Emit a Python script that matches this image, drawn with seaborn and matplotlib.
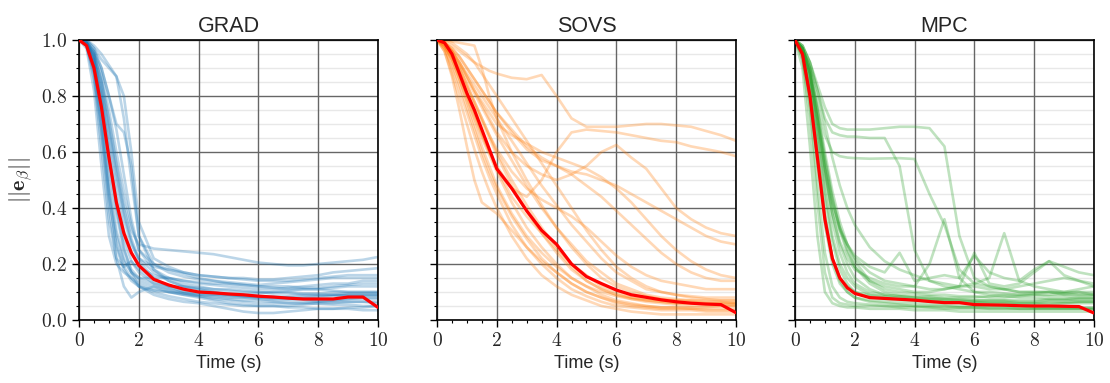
"""Error norm trajectories for three controllers (GRAD, SOVS, MPC)."""

import matplotlib
matplotlib.use("Agg")
import matplotlib.pyplot as plt
from matplotlib.ticker import FuncFormatter, MultipleLocator
import pandas as pd
import seaborn as sns

# shared time grid (s)
time = [0, 0.25, 0.5, 0.75, 1, 1.25, 1.5, 1.75, 2, 2.5, 3, 3.5, 4, 4.5,
        5, 5.5, 6, 6.5, 7, 7.5, 8, 8.5, 9, 9.5, 10]

# GRAD runs
grad_runs = [
    [1.0, 0.97, 0.82, 0.55, 0.30, 0.20, 0.17, 0.15, 0.13, 0.11, 0.10, 0.09, 0.085, 0.08, 0.075, 0.07, 0.07, 0.065, 0.06, 0.06, 0.058, 0.055, 0.055, 0.05, 0.05],
    [1.0, 0.98, 0.86, 0.62, 0.36, 0.22, 0.19, 0.21, 0.18, 0.14, 0.12, 0.11, 0.10, 0.095, 0.09, 0.085, 0.085, 0.08, 0.08, 0.075, 0.07, 0.07, 0.075, 0.08, 0.08],
    [1.0, 0.99, 0.88, 0.66, 0.40, 0.22, 0.12, 0.08, 0.10, 0.12, 0.10, 0.09, 0.08, 0.07, 0.06, 0.055, 0.05, 0.05, 0.045, 0.045, 0.04, 0.04, 0.04, 0.035, 0.035],
    [1.0, 0.99, 0.92, 0.76, 0.55, 0.38, 0.25, 0.18, 0.15, 0.13, 0.12, 0.12, 0.115, 0.11, 0.11, 0.105, 0.10, 0.10, 0.10, 0.095, 0.095, 0.10, 0.10, 0.10, 0.10],
    [1.0, 0.99, 0.93, 0.80, 0.62, 0.45, 0.32, 0.24, 0.19, 0.16, 0.15, 0.14, 0.135, 0.13, 0.13, 0.125, 0.12, 0.12, 0.12, 0.115, 0.115, 0.12, 0.125, 0.13, 0.13],
    [1.0, 0.99, 0.94, 0.82, 0.66, 0.50, 0.36, 0.27, 0.22, 0.19, 0.18, 0.17, 0.16, 0.155, 0.15, 0.145, 0.14, 0.14, 0.14, 0.145, 0.15, 0.155, 0.16, 0.16, 0.16],
    [1.0, 1.0, 0.95, 0.86, 0.72, 0.56, 0.42, 0.32, 0.27, 0.255, 0.25, 0.245, 0.24, 0.235, 0.225, 0.215, 0.205, 0.20, 0.195, 0.195, 0.20, 0.205, 0.21, 0.215, 0.225],
    [1.0, 1.0, 0.97, 0.93, 0.90, 0.87, 0.80, 0.60, 0.35, 0.22, 0.19, 0.17, 0.16, 0.155, 0.15, 0.15, 0.145, 0.145, 0.15, 0.155, 0.16, 0.17, 0.175, 0.18, 0.185],
    [1.0, 0.99, 0.96, 0.90, 0.80, 0.70, 0.67, 0.55, 0.30, 0.18, 0.14, 0.12, 0.11, 0.10, 0.09, 0.085, 0.08, 0.075, 0.075, 0.08, 0.085, 0.09, 0.09, 0.09, 0.09],
    [1.0, 0.99, 0.93, 0.78, 0.58, 0.40, 0.26, 0.17, 0.12, 0.09, 0.075, 0.065, 0.06, 0.05, 0.04, 0.03, 0.025, 0.025, 0.03, 0.035, 0.04, 0.04, 0.045, 0.045, 0.05],
    [1.0, 0.99, 0.95, 0.84, 0.68, 0.52, 0.38, 0.28, 0.21, 0.15, 0.12, 0.10, 0.09, 0.085, 0.08, 0.08, 0.075, 0.07, 0.07, 0.07, 0.065, 0.065, 0.065, 0.065, 0.06],
    [1.0, 0.99, 0.96, 0.88, 0.75, 0.60, 0.46, 0.34, 0.25, 0.18, 0.15, 0.13, 0.12, 0.11, 0.105, 0.10, 0.10, 0.095, 0.095, 0.09, 0.09, 0.09, 0.085, 0.085, 0.085],
    [1.0, 0.99, 0.90, 0.70, 0.47, 0.30, 0.21, 0.17, 0.15, 0.15, 0.15, 0.14, 0.13, 0.125, 0.12, 0.115, 0.11, 0.11, 0.115, 0.12, 0.125, 0.13, 0.13, 0.14, 0.14],
    [1.0, 1.0, 0.98, 0.95, 0.91, 0.87, 0.72, 0.50, 0.30, 0.20, 0.17, 0.155, 0.145, 0.14, 0.13, 0.125, 0.12, 0.115, 0.11, 0.11, 0.11, 0.115, 0.12, 0.12, 0.12],
    [1.0, 0.99, 0.94, 0.80, 0.60, 0.42, 0.29, 0.21, 0.17, 0.13, 0.11, 0.095, 0.085, 0.075, 0.07, 0.065, 0.06, 0.06, 0.06, 0.06, 0.065, 0.07, 0.075, 0.075, 0.075],
    [1.0, 0.99, 0.91, 0.72, 0.45, 0.26, 0.18, 0.14, 0.12, 0.105, 0.10, 0.095, 0.09, 0.09, 0.09, 0.09, 0.095, 0.10, 0.105, 0.11, 0.11, 0.105, 0.10, 0.10, 0.10],
    [1.0, 0.99, 0.92, 0.74, 0.50, 0.32, 0.22, 0.17, 0.14, 0.12, 0.11, 0.10, 0.095, 0.09, 0.085, 0.08, 0.08, 0.08, 0.085, 0.09, 0.09, 0.09, 0.095, 0.095, 0.095],
    [1.0, 0.99, 0.95, 0.85, 0.70, 0.55, 0.40, 0.29, 0.22, 0.17, 0.14, 0.12, 0.11, 0.10, 0.095, 0.09, 0.085, 0.085, 0.08, 0.08, 0.08, 0.085, 0.09, 0.09, 0.09],
    [1.0, 1.0, 0.97, 0.90, 0.80, 0.68, 0.52, 0.36, 0.25, 0.20, 0.18, 0.165, 0.15, 0.14, 0.135, 0.13, 0.125, 0.13, 0.135, 0.14, 0.145, 0.15, 0.15, 0.15, 0.15],
    [1.0, 0.98, 0.88, 0.68, 0.44, 0.27, 0.19, 0.15, 0.12, 0.10, 0.085, 0.075, 0.065, 0.06, 0.055, 0.05, 0.05, 0.05, 0.05, 0.055, 0.06, 0.06, 0.065, 0.065, 0.065],
]
grad_mean = [1.0, 0.98, 0.90, 0.76, 0.58, 0.42, 0.31, 0.24, 0.195, 0.145, 0.125, 0.11, 0.10, 0.097, 0.093, 0.09, 0.085, 0.082, 0.078, 0.075, 0.075, 0.075, 0.082, 0.082, 0.045]

# SOVS runs
sovs_runs = [
    [1.0, 0.96, 0.88, 0.79, 0.70, 0.61, 0.53, 0.46, 0.40, 0.30, 0.22, 0.16, 0.12, 0.09, 0.07, 0.05, 0.04, 0.03, 0.025, 0.02, 0.02, 0.02, 0.02, 0.02, 0.02],
    [1.0, 0.97, 0.90, 0.82, 0.74, 0.66, 0.58, 0.51, 0.45, 0.34, 0.26, 0.20, 0.15, 0.11, 0.085, 0.065, 0.05, 0.045, 0.04, 0.035, 0.035, 0.035, 0.03, 0.03, 0.03],
    [1.0, 0.98, 0.93, 0.86, 0.79, 0.72, 0.65, 0.59, 0.53, 0.42, 0.33, 0.26, 0.20, 0.15, 0.12, 0.09, 0.07, 0.06, 0.05, 0.045, 0.045, 0.04, 0.04, 0.04, 0.04],
    [1.0, 0.96, 0.87, 0.75, 0.62, 0.50, 0.42, 0.40, 0.38, 0.32, 0.26, 0.21, 0.17, 0.13, 0.10, 0.08, 0.065, 0.055, 0.05, 0.045, 0.045, 0.045, 0.045, 0.05, 0.05],
    [1.0, 0.99, 0.95, 0.90, 0.84, 0.78, 0.72, 0.66, 0.60, 0.50, 0.41, 0.33, 0.26, 0.20, 0.16, 0.12, 0.10, 0.08, 0.07, 0.065, 0.06, 0.06, 0.055, 0.055, 0.055],
    [1.0, 1.0, 0.995, 0.99, 0.985, 0.98, 0.90, 0.80, 0.72, 0.60, 0.50, 0.41, 0.33, 0.26, 0.20, 0.15, 0.12, 0.10, 0.085, 0.075, 0.07, 0.065, 0.06, 0.06, 0.06],
    [1.0, 0.99, 0.96, 0.92, 0.88, 0.84, 0.80, 0.76, 0.72, 0.64, 0.56, 0.48, 0.41, 0.34, 0.28, 0.22, 0.17, 0.14, 0.11, 0.10, 0.09, 0.085, 0.08, 0.08, 0.08],
    [1.0, 0.995, 0.98, 0.96, 0.94, 0.92, 0.905, 0.89, 0.88, 0.865, 0.86, 0.875, 0.80, 0.72, 0.69, 0.69, 0.69, 0.695, 0.70, 0.70, 0.695, 0.69, 0.675, 0.66, 0.64],
    [1.0, 0.98, 0.93, 0.87, 0.80, 0.73, 0.66, 0.60, 0.55, 0.47, 0.44, 0.50, 0.60, 0.67, 0.68, 0.675, 0.67, 0.66, 0.65, 0.64, 0.635, 0.62, 0.61, 0.60, 0.585],
    [1.0, 0.99, 0.96, 0.92, 0.87, 0.82, 0.78, 0.74, 0.70, 0.66, 0.63, 0.60, 0.58, 0.56, 0.54, 0.51, 0.47, 0.42, 0.36, 0.30, 0.25, 0.21, 0.18, 0.16, 0.15],
    [1.0, 0.99, 0.97, 0.94, 0.90, 0.86, 0.82, 0.78, 0.74, 0.68, 0.62, 0.58, 0.55, 0.52, 0.48, 0.44, 0.39, 0.34, 0.29, 0.24, 0.20, 0.17, 0.15, 0.14, 0.14],
    [1.0, 0.99, 0.96, 0.92, 0.87, 0.82, 0.77, 0.72, 0.67, 0.60, 0.55, 0.52, 0.50, 0.52, 0.55, 0.60, 0.625, 0.58, 0.54, 0.47, 0.40, 0.36, 0.33, 0.31, 0.30],
    [1.0, 0.99, 0.95, 0.90, 0.84, 0.78, 0.72, 0.66, 0.61, 0.53, 0.47, 0.43, 0.40, 0.37, 0.33, 0.28, 0.23, 0.19, 0.16, 0.14, 0.13, 0.12, 0.11, 0.11, 0.11],
    [1.0, 0.98, 0.94, 0.88, 0.81, 0.74, 0.67, 0.60, 0.54, 0.44, 0.37, 0.31, 0.25, 0.19, 0.14, 0.11, 0.09, 0.08, 0.075, 0.07, 0.07, 0.07, 0.065, 0.065, 0.06],
    [1.0, 0.99, 0.97, 0.94, 0.90, 0.86, 0.82, 0.78, 0.74, 0.67, 0.61, 0.57, 0.55, 0.53, 0.52, 0.50, 0.48, 0.45, 0.42, 0.39, 0.36, 0.33, 0.30, 0.28, 0.27],
    [1.0, 1.0, 0.99, 0.97, 0.95, 0.92, 0.88, 0.84, 0.80, 0.72, 0.64, 0.56, 0.48, 0.40, 0.32, 0.25, 0.19, 0.15, 0.12, 0.10, 0.09, 0.08, 0.075, 0.07, 0.07],
    [1.0, 0.97, 0.91, 0.84, 0.76, 0.68, 0.60, 0.53, 0.47, 0.37, 0.29, 0.22, 0.17, 0.13, 0.10, 0.08, 0.06, 0.05, 0.045, 0.04, 0.04, 0.04, 0.035, 0.035, 0.035],
    [1.0, 0.98, 0.94, 0.89, 0.83, 0.77, 0.71, 0.65, 0.59, 0.48, 0.39, 0.31, 0.24, 0.18, 0.14, 0.11, 0.09, 0.075, 0.065, 0.06, 0.055, 0.05, 0.05, 0.05, 0.05],
    [1.0, 0.99, 0.96, 0.91, 0.86, 0.81, 0.76, 0.71, 0.66, 0.57, 0.48, 0.40, 0.33, 0.27, 0.21, 0.17, 0.13, 0.11, 0.09, 0.08, 0.075, 0.07, 0.07, 0.07, 0.07],
    [1.0, 0.98, 0.93, 0.86, 0.78, 0.70, 0.62, 0.55, 0.48, 0.38, 0.30, 0.24, 0.19, 0.15, 0.12, 0.10, 0.085, 0.075, 0.07, 0.065, 0.06, 0.06, 0.06, 0.06, 0.06],
]
sovs_mean = [1.0, 0.99, 0.95, 0.88, 0.81, 0.75, 0.68, 0.61, 0.54, 0.47, 0.39, 0.32, 0.27, 0.20, 0.155, 0.13, 0.107, 0.09, 0.081, 0.072, 0.065, 0.06, 0.057, 0.055, 0.026]

# MPC runs
mpc_runs = [
    [1.0, 0.90, 0.62, 0.30, 0.10, 0.06, 0.05, 0.045, 0.045, 0.04, 0.04, 0.04, 0.035, 0.035, 0.035, 0.03, 0.03, 0.03, 0.03, 0.03, 0.03, 0.03, 0.03, 0.03, 0.03],
    [1.0, 0.93, 0.72, 0.42, 0.17, 0.08, 0.06, 0.055, 0.05, 0.05, 0.05, 0.045, 0.045, 0.045, 0.04, 0.04, 0.04, 0.04, 0.04, 0.04, 0.04, 0.04, 0.04, 0.04, 0.04],
    [1.0, 0.95, 0.80, 0.56, 0.34, 0.20, 0.13, 0.10, 0.08, 0.07, 0.065, 0.06, 0.06, 0.055, 0.055, 0.05, 0.05, 0.05, 0.05, 0.05, 0.045, 0.045, 0.045, 0.045, 0.045],
    [1.0, 0.96, 0.84, 0.64, 0.44, 0.28, 0.18, 0.13, 0.10, 0.08, 0.075, 0.07, 0.07, 0.065, 0.065, 0.06, 0.06, 0.06, 0.06, 0.055, 0.055, 0.055, 0.06, 0.06, 0.06],
    [1.0, 0.97, 0.88, 0.72, 0.54, 0.38, 0.27, 0.20, 0.15, 0.11, 0.09, 0.085, 0.08, 0.08, 0.075, 0.075, 0.07, 0.07, 0.07, 0.065, 0.065, 0.07, 0.07, 0.075, 0.075],
    [1.0, 0.97, 0.90, 0.76, 0.60, 0.46, 0.35, 0.27, 0.21, 0.14, 0.11, 0.10, 0.095, 0.09, 0.09, 0.085, 0.085, 0.08, 0.08, 0.085, 0.09, 0.09, 0.095, 0.10, 0.10],
    [1.0, 0.98, 0.92, 0.84, 0.76, 0.70, 0.685, 0.68, 0.68, 0.68, 0.685, 0.69, 0.69, 0.685, 0.62, 0.30, 0.15, 0.12, 0.11, 0.10, 0.10, 0.10, 0.09, 0.09, 0.09],
    [1.0, 0.98, 0.92, 0.82, 0.72, 0.67, 0.66, 0.655, 0.655, 0.65, 0.65, 0.55, 0.25, 0.14, 0.12, 0.11, 0.10, 0.10, 0.095, 0.09, 0.09, 0.085, 0.085, 0.08, 0.08],
    [1.0, 0.97, 0.90, 0.78, 0.66, 0.60, 0.585, 0.58, 0.578, 0.576, 0.577, 0.578, 0.575, 0.45, 0.34, 0.18, 0.13, 0.12, 0.11, 0.10, 0.10, 0.10, 0.095, 0.09, 0.09],
    [1.0, 0.97, 0.88, 0.72, 0.55, 0.42, 0.33, 0.27, 0.22, 0.17, 0.14, 0.13, 0.12, 0.20, 0.36, 0.15, 0.10, 0.09, 0.085, 0.08, 0.08, 0.075, 0.075, 0.07, 0.07],
    [1.0, 0.97, 0.89, 0.74, 0.57, 0.43, 0.32, 0.24, 0.19, 0.14, 0.12, 0.11, 0.10, 0.10, 0.11, 0.12, 0.13, 0.15, 0.31, 0.14, 0.12, 0.11, 0.10, 0.10, 0.09],
    [1.0, 0.97, 0.88, 0.72, 0.54, 0.40, 0.32, 0.27, 0.23, 0.19, 0.17, 0.24, 0.14, 0.15, 0.16, 0.15, 0.23, 0.17, 0.15, 0.14, 0.18, 0.21, 0.19, 0.17, 0.16],
    [1.0, 0.98, 0.92, 0.82, 0.70, 0.58, 0.48, 0.40, 0.34, 0.26, 0.21, 0.18, 0.16, 0.14, 0.13, 0.12, 0.12, 0.11, 0.11, 0.12, 0.13, 0.14, 0.15, 0.14, 0.12],
    [1.0, 0.96, 0.86, 0.68, 0.50, 0.35, 0.24, 0.17, 0.13, 0.10, 0.09, 0.085, 0.08, 0.075, 0.075, 0.07, 0.07, 0.07, 0.07, 0.07, 0.07, 0.075, 0.075, 0.08, 0.08],
    [1.0, 0.95, 0.82, 0.60, 0.38, 0.22, 0.14, 0.10, 0.08, 0.065, 0.06, 0.055, 0.05, 0.05, 0.05, 0.045, 0.045, 0.045, 0.045, 0.04, 0.04, 0.04, 0.04, 0.04, 0.04],
    [1.0, 0.97, 0.88, 0.70, 0.52, 0.38, 0.28, 0.22, 0.18, 0.15, 0.13, 0.12, 0.12, 0.11, 0.11, 0.12, 0.24, 0.13, 0.12, 0.13, 0.17, 0.21, 0.16, 0.14, 0.13],
    [1.0, 0.94, 0.76, 0.48, 0.24, 0.12, 0.08, 0.065, 0.06, 0.055, 0.05, 0.05, 0.05, 0.045, 0.045, 0.045, 0.045, 0.04, 0.04, 0.04, 0.04, 0.04, 0.04, 0.04, 0.04],
    [1.0, 0.96, 0.85, 0.66, 0.46, 0.30, 0.20, 0.15, 0.12, 0.09, 0.08, 0.075, 0.07, 0.07, 0.065, 0.065, 0.065, 0.06, 0.06, 0.06, 0.06, 0.065, 0.065, 0.065, 0.065],
    [1.0, 0.97, 0.89, 0.75, 0.58, 0.44, 0.33, 0.25, 0.19, 0.13, 0.10, 0.09, 0.085, 0.085, 0.08, 0.08, 0.08, 0.085, 0.09, 0.09, 0.095, 0.10, 0.10, 0.11, 0.12],
    [1.0, 0.95, 0.80, 0.58, 0.37, 0.22, 0.15, 0.12, 0.10, 0.09, 0.085, 0.08, 0.075, 0.075, 0.07, 0.07, 0.065, 0.065, 0.065, 0.06, 0.06, 0.06, 0.06, 0.065, 0.065],
]
mpc_mean = [1.0, 0.95, 0.80, 0.58, 0.36, 0.22, 0.15, 0.115, 0.095, 0.08, 0.077, 0.074, 0.071, 0.066, 0.062, 0.062, 0.055, 0.054, 0.053, 0.051, 0.05, 0.05, 0.049, 0.048, 0.025]

titles = ["GRAD", "SOVS", "MPC"]
colors = ["#1f77b4", "#ff7f0e", "#2ca02c"]


def runs_frame(runs):
    rows = []
    for k, run in enumerate(runs):
        for t, v in zip(time, run):
            rows.append({"time": t, "value": v, "run": k})
    return pd.DataFrame(rows)


sns.set_theme(style="white")
plt.rcParams["font.family"] = ["Liberation Sans", "DejaVu Sans"]
plt.rcParams["mathtext.fontset"] = "cm"

fig = plt.figure(figsize=(11.1, 3.83), dpi=100)
lefts = [0.0712, 0.3937, 0.7162]
width = 0.2693
bottom, height = 0.1645, 0.7311

panels = [(grad_runs, grad_mean), (sovs_runs, sovs_mean), (mpc_runs, mpc_mean)]
for i, (runs, mean) in enumerate(panels):
    ax = fig.add_axes([lefts[i], bottom, width, height])
    df = runs_frame(runs)
    sns.lineplot(data=df, x="time", y="value", units="run", estimator=None,
                 color=colors[i], alpha=0.3, lw=1.9, legend=False, ax=ax)
    sns.lineplot(x=time, y=mean, color="red", lw=2.3, ax=ax, zorder=5)

    ax.set_xlim(0, 10)
    ax.set_ylim(0, 1)
    ax.xaxis.set_major_locator(MultipleLocator(2))
    ax.xaxis.set_minor_locator(MultipleLocator(0.5))
    ax.yaxis.set_major_locator(MultipleLocator(0.2))
    ax.yaxis.set_minor_locator(MultipleLocator(0.05))
    ax.grid(which="major", color="#666666", lw=1.0)
    ax.grid(which="minor", axis="y", color="#e8e8e8", lw=1.0)
    ax.set_axisbelow(True)
    # vertical grid over the light minor lines so it stays solid
    ax.xaxis.set_zorder(0.6)
    for sp in ax.spines.values():
        sp.set_color("black")
        sp.set_linewidth(1.2)
    ax.tick_params(which="major", direction="out", length=5, width=1.0,
                   color="black", labelsize=14, bottom=True, left=True)
    ax.tick_params(which="minor", direction="out", length=2.5, width=0.8,
                   color="black", bottom=True, left=True)
    ax.xaxis.set_major_formatter(FuncFormatter(lambda v, _: f"${v:g}$"))
    if i == 0:
        ax.yaxis.set_major_formatter(FuncFormatter(lambda v, _: f"${v:.1f}$"))
        ax.set_ylabel(r"$||\mathbf{e}_\beta||$", fontsize=16)
    else:
        ax.set_yticklabels([])
        ax.set_ylabel("")
    ax.set_xlabel("Time (s)", fontsize=13)
    ax.set_title(titles[i], fontsize=15.5)

fig.savefig("out.png", dpi=100)
plt.close(fig)
